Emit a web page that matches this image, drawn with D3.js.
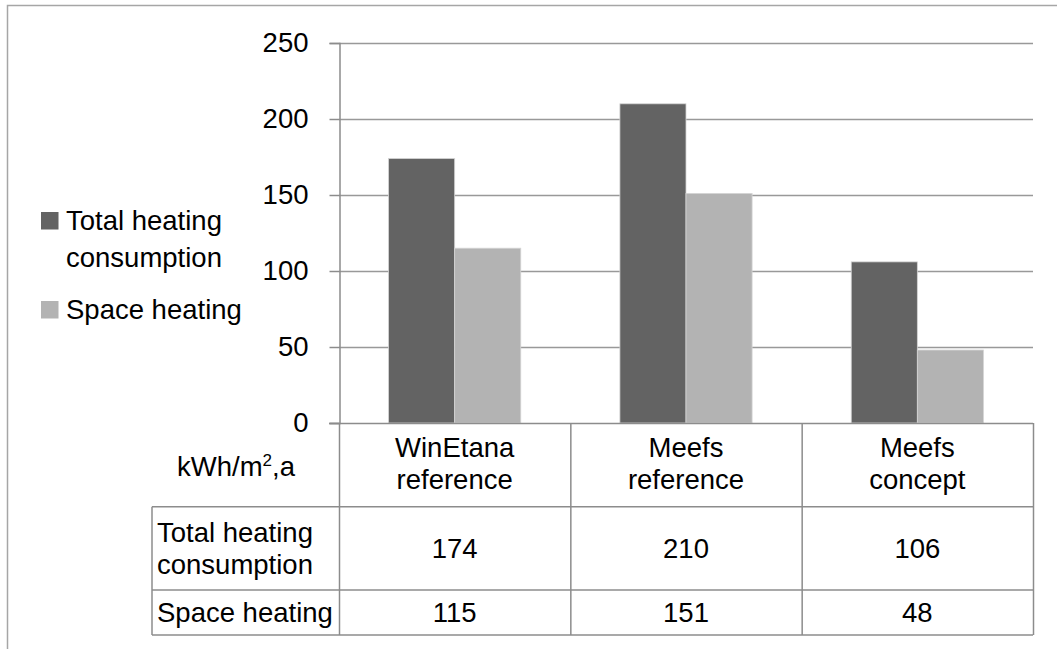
<!DOCTYPE html>
<html>
<head>
<meta charset="utf-8">
<script src="https://cdn.jsdelivr.net/npm/d3@7"></script>
<style>
  html, body { margin: 0; padding: 0; background: #fff; }
  svg { display: block; }
  text { font-family: "Liberation Sans", Arial, sans-serif; fill: #000; }
</style>
</head>
<body>
<script>
// ---- data ----
const categories = ["WinEtana reference", "Meefs reference", "Meefs concept"];
const seriesNames = ["Total heating consumption", "Space heating"];
const totalHeating = [174, 210, 106];
const spaceHeating = [115, 151, 48];
const yTicks = [0, 50, 100, 150, 200, 250];
const seriesColors = ["#636363", "#b3b3b3"];

const W = 1057, H = 649;
const FS = 27.5;
const svg = d3.select("body").append("svg").attr("width", W).attr("height", H);

// outer frame (cropped on right/bottom)
svg.append("rect").attr("x", 7.5).attr("y", 5.5).attr("width", 1200).attr("height", 800)
  .attr("fill", "none").attr("stroke", "#a6a6a6").attr("stroke-width", 1.5);

const plotL = 339, plotR = 1033, plotT = 43, plotB = 423;
const y = d3.scaleLinear().domain([0, 250]).range([plotB, plotT]);
const x0 = d3.scaleBand().domain(categories).range([plotL, plotR]).paddingInner(0).paddingOuter(0);
const x1 = d3.scaleBand().domain(seriesNames).range([0, x0.bandwidth()]).paddingInner(0).paddingOuter(0.75);

// gridlines
svg.append("g").selectAll("line").data(yTicks.filter(d => d > 0)).join("line")
  .attr("x1", plotL).attr("x2", plotR)
  .attr("y1", d => Math.round(y(d)) + 0.5).attr("y2", d => Math.round(y(d)) + 0.5)
  .attr("stroke", "#999").attr("stroke-width", 1.5);

// y axis
const yAxis = svg.append("g").attr("transform", `translate(${plotL + 0.5},0)`)
  .call(d3.axisLeft(y).tickValues(yTicks).tickSize(10).tickPadding(21));
yAxis.select(".domain").attr("stroke", "#8c8c8c").attr("stroke-width", 1.5);
yAxis.selectAll(".tick line").attr("stroke", "#8c8c8c").attr("stroke-width", 1.5);
yAxis.selectAll(".tick text").attr("font-size", FS).attr("font-family", "Liberation Sans, Arial, sans-serif").attr("fill", "#000");

// bars
const rows = categories.map((c, i) => ({ cat: c, vals: [totalHeating[i], spaceHeating[i]] }));
const groups = svg.append("g").selectAll("g").data(rows).join("g")
  .attr("transform", d => `translate(${x0(d.cat)},0)`);
groups.selectAll("rect").data(d => d.vals.map((v, k) => ({ s: seriesNames[k], v, k }))).join("rect")
  .attr("x", d => x1(d.s)).attr("width", x1.bandwidth())
  .attr("y", d => y(d.v)).attr("height", d => y(0) - y(d.v))
  .attr("fill", d => seriesColors[d.k])
  .attr("stroke", "#d4d4d4").attr("stroke-width", 0.8);

// x axis line (0)
svg.append("line").attr("x1", plotL - 10).attr("x2", plotR)
  .attr("y1", plotB + 0.5).attr("y2", plotB + 0.5)
  .attr("stroke", "#8c8c8c").attr("stroke-width", 1.5);

// ---- data table ----
const tableL = 152;
const rowEdges = [plotB, 506.7, 590, 635];
const lineColor = "#8c8c8c";
const tbl = svg.append("g");
// horizontal lines
[rowEdges[1], rowEdges[2], rowEdges[3]].forEach(yy => {
  tbl.append("line").attr("x1", tableL).attr("x2", plotR).attr("y1", yy).attr("y2", yy)
    .attr("stroke", lineColor).attr("stroke-width", 1.5);
});
// vertical lines at band edges
const vEdges = categories.map(c => x0(c)).concat([x0(categories[categories.length - 1]) + x0.bandwidth()]);
vEdges.forEach(xx => {
  tbl.append("line").attr("x1", xx + 0.5).attr("x2", xx + 0.5).attr("y1", rowEdges[0]).attr("y2", rowEdges[3])
    .attr("stroke", lineColor).attr("stroke-width", 1.5);
});
tbl.append("line").attr("x1", tableL).attr("x2", tableL).attr("y1", rowEdges[1]).attr("y2", rowEdges[3])
  .attr("stroke", lineColor).attr("stroke-width", 1.5);

const LH = 32;
function multiline(g, lines, cx, cy, anchor) {
  const t = g.append("text").attr("font-size", FS).attr("text-anchor", anchor);
  const n = lines.length;
  lines.forEach((ln, i) => {
    t.append("tspan").attr("x", cx).attr("y", cy + (i - (n - 1) / 2) * LH + FS * 0.35).text(ln);
  });
  return t;
}
// header category labels
categories.forEach(c => {
  multiline(tbl, c.split(" "), x0(c) + x0.bandwidth() / 2, (rowEdges[0] + rowEdges[1]) / 2 - 1, "middle");
});
// unit label
const unit = tbl.append("text").attr("font-size", FS).attr("text-anchor", "middle")
  .attr("x", 236).attr("y", 476);
unit.append("tspan").text("kWh/m");
unit.append("tspan").attr("font-size", FS * 0.62).attr("dy", -10).text("2");
unit.append("tspan").attr("dy", 10).text(",a");

// row labels & values
const seriesVals = [totalHeating, spaceHeating];
const rowLines = [["Total heating", "consumption"], ["Space heating"]];
seriesNames.forEach((s, k) => {
  const cy = (rowEdges[k + 1] + rowEdges[k + 2]) / 2;
  multiline(tbl, rowLines[k], tableL + 5, cy, "start");
  categories.forEach((c, i) => {
    multiline(tbl, [String(seriesVals[k][i])], x0(c) + x0.bandwidth() / 2, cy, "middle");
  });
});

// ---- legend ----
const leg = svg.append("g");
const legendY = [212, 301];
const legendLines = [["Total heating", "consumption"], ["Space heating"]];
seriesNames.forEach((s, k) => {
  leg.append("rect").attr("x", 41).attr("y", legendY[k]).attr("width", 17.5).attr("height", 17.5)
    .attr("fill", seriesColors[k]);
  const t = leg.append("text").attr("font-size", FS);
  legendLines[k].forEach((ln, i) => {
    t.append("tspan").attr("x", 66).attr("y", legendY[k] + 18 + i * 37).text(ln);
  });
});
</script>
</body>
</html>
